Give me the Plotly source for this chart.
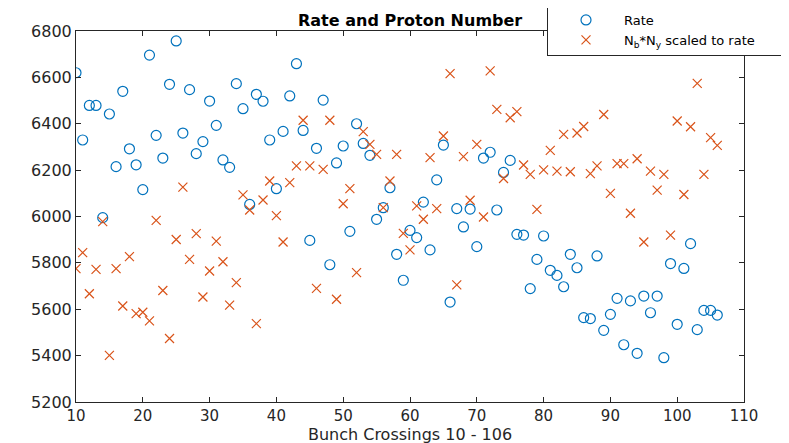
import plotly.graph_objects as go

bunch = list(range(10, 107))

rate = [6620, 6330, 6479, 6479, 5995, 6442, 6215, 6540, 6292, 6223,
        6116, 6696, 6350, 6252, 6570, 6757, 6360, 6547, 6271, 6323,
        6498, 6393, 6244, 6212, 6573, 6465, 6052, 6527, 6497, 6330,
        6120, 6367, 6520, 6659, 6371, 5897, 6294, 6502, 5792, 6231,
        6304, 5936, 6400, 6315, 6264, 5988, 6038, 6124, 5837, 5725,
        5940, 5909, 6062, 5856, 6158, 6308, 5631, 6034, 5955, 6032,
        5870, 6252, 6277, 6028, 6190, 6242, 5923, 5920, 5689, 5815,
        5916, 5768, 5746, 5697, 5837, 5779, 5564, 5560, 5830, 5509,
        5578, 5647, 5447, 5636, 5410, 5657, 5585, 5657, 5391, 5797,
        5535, 5776, 5883, 5512, 5595, 5595, 5575]

nbny = [5775, 5844, 5667, 5772, 5978, 5401, 5775, 5614, 5827, 5581,
        5587, 5550, 5983, 5681, 5474, 5901, 6127, 5815, 5926, 5653,
        5765, 5894, 5805, 5618, 5715, 6093, 6028, 5538, 6071, 6153,
        6004, 5890, 6146, 6218, 6415, 6218, 5690, 6203, 6415, 5643,
        6055, 6120, 5758, 6366, 6311, 6268, 6038, 6153, 6268, 5927,
        5856, 6046, 5988, 6254, 6034, 6347, 6616, 5705, 6258, 6070,
        6311, 5998, 6628, 6462, 6164, 6426, 6452, 6222, 6182, 6031,
        6201, 6285, 6196, 6354, 6193, 6360, 6388, 6185, 6218, 6440,
        6100, 6228, 6228, 6014, 6249, 5890, 6196, 6114, 6182, 5920,
        6412, 6095, 6387, 6574, 6182, 6340, 6307]

x_ticks = list(range(10, 111, 10))
y_ticks = list(range(5200, 6801, 200))

blue = "#0072BD"
orange = "#D95319"
axis_col = "#262626"
FONT = "DejaVu Sans, Liberation Sans, Arial, sans-serif"

W, H = 789, 443
L, R, T, B = 68, 736, 23, 394

fig = go.Figure()
fig.add_trace(go.Scatter(
    x=bunch, y=rate, mode="markers", name="Rate",
    marker=dict(symbol="circle-open", size=10, color=blue, line=dict(width=1.2)),
))
fig.add_trace(go.Scatter(
    x=bunch, y=nbny, mode="markers",
    name="N<sub>b</sub>*N<sub>y</sub> scaled to rate\u00a0\u00a0\u00a0\u00a0\u00a0",
    marker=dict(symbol="x-thin-open", size=9, color=orange, line=dict(width=1.2, color=orange)),
))

axis_common = dict(
    showgrid=False, zeroline=False, showline=True, linecolor=axis_col, linewidth=1,
    mirror="ticks", ticks="inside", ticklen=5, tickcolor=axis_col,
)

fig.update_layout(
    width=W, height=H,
    margin=dict(l=L, r=W - R, t=T, b=H - B, autoexpand=False),
    paper_bgcolor="white", plot_bgcolor="white",
    annotations=[dict(text="<b>Rate and Proton Number</b>", xref="paper", yref="paper",
                      x=(402 - L) / (R - L), y=(B - 12) / (B - T),
                      xanchor="center", yanchor="middle", showarrow=False,
                      font=dict(family=FONT, size=16, color="black"))],
    xaxis=dict(range=[10, 110], tickvals=x_ticks,
               tickfont=dict(family=FONT, size=15, color=axis_col),
               title=dict(text="Bunch Crossings 10 - 106", standoff=0,
                          font=dict(family=FONT, size=16, color=axis_col)),
               **axis_common),
    yaxis=dict(range=[5200, 6800], tickvals=y_ticks,
               tickfont=dict(family=FONT, size=16, color=axis_col),
               **axis_common),
    legend=dict(x=(539 - L) / (R - L), xanchor="left", y=(B + 4) / (B - T), yanchor="top",
                bgcolor="white", bordercolor=axis_col, borderwidth=1,
                font=dict(family=FONT, size=13, color="black"),
                itemwidth=66, tracegroupgap=0),
    showlegend=True,
)

fig.write_html("out.html")
